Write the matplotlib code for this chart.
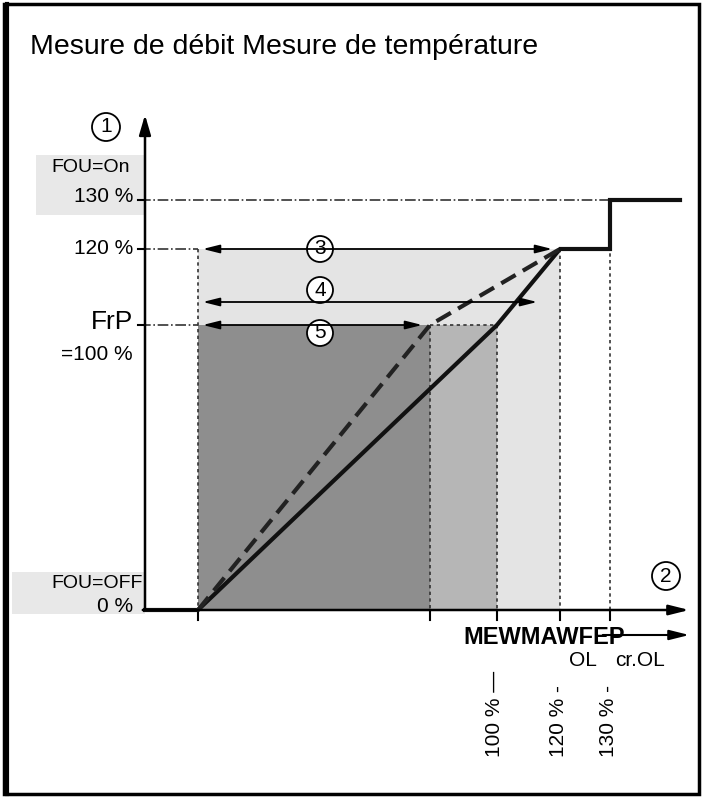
import matplotlib
matplotlib.use("Agg")
import matplotlib.pyplot as plt
from matplotlib.patches import Rectangle, Circle

# diagram key positions (pixel-like diagram units)
x_levels = [198, 430, 497, 560, 610]          # 0%, dashed knee, 100%, 120% (OL), 130% (cr.OL)
y_levels = {"0": 610, "100": 325, "120": 249, "130": 200}
solid_x = [145, 198, 497, 560, 610, 610, 680]
solid_y = [610, 610, 325, 249, 249, 200, 200]
dash_x = [198, 430, 560]
dash_y = [610, 325, 249]
x_tick_labels = ["100 % —", "120 % -", "130 % -"]

FONT = "Liberation Sans"
fig = plt.figure(figsize=(7.04, 7.98), dpi=100)
ax = fig.add_axes([0, 0, 1, 1])
ax.set_xlim(0, 704); ax.set_ylim(798, 0); ax.axis("off")

# frame
ax.add_patch(Rectangle((4, 4), 695, 790, fill=False, lw=2.5, ec="black"))
ax.plot([7, 7], [4, 794], color="black", lw=3)

ax.text(30, 47, "Mesure de débit Mesure de température", fontsize=20.5, va="center",
        family=FONT, stretch="condensed")

x0, xk, x100, x120, x130 = x_levels
y0, y100, y120, y130 = y_levels["0"], y_levels["100"], y_levels["120"], y_levels["130"]
ax.add_patch(Rectangle((x0, y120), x120 - x0, y0 - y120, color="#e4e4e4", lw=0))
ax.add_patch(Rectangle((x0, y100), xk - x0, y0 - y100, color="#8e8e8e", lw=0))
ax.add_patch(Rectangle((xk, y100), x100 - xk, y0 - y100, color="#b6b6b6", lw=0))
ax.add_patch(Rectangle((36, 155), 145 - 36, 60, color="#e8e8e8", lw=0))
ax.add_patch(Rectangle((12, 572), 145 - 12, 42, color="#e8e8e8", lw=0))

for xv, top in [(x0, y120), (xk, y100), (x100, y100), (x120, y120), (x130, y130)]:
    ax.plot([xv, xv], [top, y0], color="#333", lw=1.2, ls=(0, (2, 2)))
ax.plot([140, x130], [y130, y130], color="#333", lw=1.2, ls="-.")
ax.plot([140, x0], [y120, y120], color="#333", lw=1.2, ls="-.")
ax.plot([140, x0], [y100, y100], color="#333", lw=1.2, ls="-.")
ax.plot([xk, x100], [y100, y100], color="#333", lw=1.2, ls=(0, (2, 2)))

ax.annotate("", xy=(145, 112), xytext=(145, 612),
            arrowprops=dict(arrowstyle="-|>,head_width=0.35,head_length=1.2", color="black", lw=1.8))
ax.annotate("", xy=(692, y0), xytext=(140, y0),
            arrowprops=dict(arrowstyle="-|>,head_width=0.3,head_length=1.2", color="black", lw=1.8))
ax.annotate("", xy=(692, 635), xytext=(600, 635),
            arrowprops=dict(arrowstyle="-|>,head_width=0.3,head_length=1.2", color="black", lw=1.5))
for xv in x_levels:
    ax.plot([xv, xv], [y0, y0 + 10], color="black", lw=1.5)
for yv in [y130, y120, y100]:
    ax.plot([138, 145], [yv, yv], color="black", lw=1.5)

ax.plot(solid_x, solid_y, color="#111", lw=3, solid_joinstyle="miter")
ax.plot(dash_x, dash_y, color="#222", lw=3, ls=(0, (4, 2)))

for y, xe in [(y120, 555), (302, 540), (y100, 425)]:
    ax.annotate("", xy=(x0 + 2, y), xytext=(xe, y),
                arrowprops=dict(arrowstyle="<|-|>,head_width=0.25,head_length=1.0", color="black", lw=1.3))
for y, n in [(249, "3"), (290, "4"), (333, "5")]:
    ax.add_patch(Circle((320, y), 13, fc="white", ec="black", lw=1.3))
    ax.text(320, y, n, ha="center", va="center", fontsize=15, family=FONT)
for (cx, cy), n in [((106, 127), "1"), ((666, 576), "2")]:
    ax.add_patch(Circle((cx, cy), 14, fc="white", ec="black", lw=1.3))
    ax.text(cx, cy, n, ha="center", va="center", fontsize=15, family=FONT)

kw = dict(ha="right", va="center", family=FONT)
ax.text(130, 168, "FOU=On", fontsize=14, **kw)
ax.text(133, 197, "130 %", fontsize=15, **kw)
ax.text(133, 248, "120 %", fontsize=15, **kw)
ax.text(133, 322, "FrP", fontsize=19, **kw)
ax.text(133, 355, "=100 %", fontsize=15, **kw)
ax.text(143, 583, "FOU=OFF", fontsize=14, **kw)
ax.text(133, 607, "0 %", fontsize=15, **kw)

ax.text(463, 637, "MEWMAWFEP", fontsize=17, fontweight="bold", va="center", family=FONT)
ax.text(583, 660, "OL", fontsize=15, ha="center", va="center", family=FONT)
ax.text(640, 660, "cr.OL", fontsize=15, ha="center", va="center", family=FONT)
for xv, lab in zip([x100, x120, x130], x_tick_labels):
    ax.text(xv - 2, 757, lab, rotation=90, fontsize=15, ha="center", va="bottom", family=FONT)

fig.savefig("out.png", dpi=100)
